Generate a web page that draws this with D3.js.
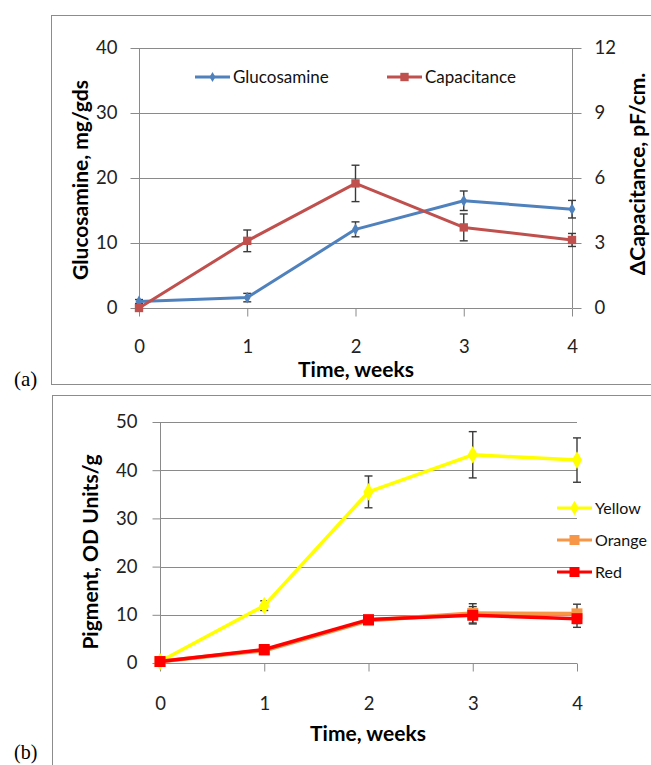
<!DOCTYPE html>
<html>
<head>
<meta charset="utf-8">
<script src="https://cdn.jsdelivr.net/npm/d3@7"></script>
<style>
  body { margin: 0; background: #fff; }
  svg { display: block; font-family: Lato, "Open Sans", sans-serif; }
</style>
</head>
<body>
<svg id="chart" width="651" height="765"></svg>
<script>
"use strict";

// values
const weeks = [0, 1, 2, 3, 4];

const glucosamine = [1.0, 1.6, 12.1, 16.5, 15.2];
const glucosamineErr = [0.3, 0.65, 1.15, 1.5, 1.35];
const capacitance = [0, 3.1, 5.75, 3.72, 3.14];
const capacitanceErr = [0, 0.5, 0.84, 0.62, 0.3];

const yellow = [0.3, 11.9, 35.5, 43.2, 42.1];
const yellowErr = [0.3, 1.0, 3.3, 4.8, 4.6];
const orange = [0.3, 2.6, 8.8, 10.3, 10.2];
const orangeErr = [0.2, 0.5, 0.6, 2.0, 2.0];
const red = [0.3, 2.8, 9.0, 9.9, 9.2];
const redErr = [0.2, 0.5, 0.6, 1.8, 1.8];

const leftTicksA = [0, 10, 20, 30, 40];
const rightTicksA = [0, 3, 6, 9, 12];
const leftTicksB = [0, 10, 20, 30, 40, 50];

const gridColor = "#8a8a8a";

let svg = d3.select("#chart");

// panel frames
svg.append("rect")
    .attr("x", 51.5).attr("y", 15.5)
    .attr("width", 640).attr("height", 369)
    .attr("fill", "none").attr("stroke", "#8c8c8c");
svg.append("rect")
    .attr("x", 52.5).attr("y", 395.5)
    .attr("width", 640).attr("height", 400)
    .attr("fill", "none").attr("stroke", "#8c8c8c");

svg.append("text").text("(a)")
    .attr("x", 14).attr("y", 386)
    .style("font-family", "'Liberation Serif', serif").style("font-size", "21px");
svg.append("text").text("(b)")
    .attr("x", 14).attr("y", 759)
    .style("font-family", "'Liberation Serif', serif").style("font-size", "20px");

function styleAxis(g) {
    g.select(".domain").remove();
    g.selectAll(".tick line").attr("stroke", gridColor);
    g.selectAll(".tick text")
        .attr("fill", "#222")
        .style("font-size", "18.5px")
        .style("font-family", "Lato, sans-serif");
}

function gridlines(g, x, y, ticks) {
    g.append("g").selectAll("line")
        .data(ticks)
        .join("line")
        .attr("x1", x.range()[0]).attr("x2", x.range()[1])
        .attr("y1", d => Math.round(y(d)) + 0.5)
        .attr("y2", d => Math.round(y(d)) + 0.5)
        .attr("stroke", gridColor);
}

function errorBars(g, x, y, vals, errs, cap) {
    let eb = g.append("g").attr("stroke", "#3a3a3a").attr("stroke-width", 1.4);
    weeks.forEach((w, i) => {
        if (!errs[i]) return;
        let cx = x(w), y1 = y(vals[i] + errs[i]), y2 = y(vals[i] - errs[i]);
        eb.append("line").attr("x1", cx).attr("x2", cx).attr("y1", y1).attr("y2", y2);
        eb.append("line").attr("x1", cx - cap).attr("x2", cx + cap).attr("y1", y1).attr("y2", y1);
        eb.append("line").attr("x1", cx - cap).attr("x2", cx + cap).attr("y1", y2).attr("y2", y2);
    });
}

function series(g, x, y, vals, color, width, shape, size) {
    let line = d3.line().x((d, i) => x(weeks[i])).y(d => y(d));
    g.append("path")
        .datum(vals)
        .attr("d", line)
        .attr("fill", "none")
        .attr("stroke", color)
        .attr("stroke-width", width)
        .attr("stroke-linejoin", "round");
    g.append("g").selectAll("path")
        .data(vals)
        .join("path")
        .attr("d", d3.symbol().type(shape).size(size))
        .attr("transform", (d, i) => `translate(${x(weeks[i])},${y(d)})`)
        .attr("fill", color);
}

function legendItem(g, x0, y0, color, shape, size, label, width, fs) {
    g.append("line")
        .attr("x1", x0).attr("x2", x0 + 35)
        .attr("y1", y0).attr("y2", y0)
        .attr("stroke", color).attr("stroke-width", width);
    g.append("path")
        .attr("d", d3.symbol().type(shape).size(size))
        .attr("transform", `translate(${x0 + 17.5},${y0})`)
        .attr("fill", color);
    g.append("text").text(label)
        .attr("x", x0 + 38).attr("y", y0 + 6)
        .attr("fill", "#111")
        .style("font-size", fs + "px");
}

// ---------- panel (a) ----------
{
    let x = d3.scaleLinear().domain([0, 4]).range([139, 572]);
    let yL = d3.scaleLinear().domain([0, 40]).range([308, 48]);
    let yR = d3.scaleLinear().domain([0, 12]).range([308, 48]);
    let g = svg.append("g");

    gridlines(g, x, yL, leftTicksA);

    g.append("line")
        .attr("x1", x(0) + 0.5).attr("x2", x(0) + 0.5)
        .attr("y1", yL(40)).attr("y2", yL(0))
        .attr("stroke", gridColor);
    g.append("line")
        .attr("x1", x(4) + 0.5).attr("x2", x(4) + 0.5)
        .attr("y1", yL(40)).attr("y2", yL(0))
        .attr("stroke", gridColor);

    g.append("g")
        .attr("transform", `translate(${x(0) + 0.5},0)`)
        .call(d3.axisLeft(yL).tickValues(leftTicksA).tickSize(9).tickPadding(13))
        .call(styleAxis);
    g.append("g")
        .attr("transform", `translate(${x(4) + 0.5},0)`)
        .call(d3.axisRight(yR).tickValues(rightTicksA).tickSize(9).tickPadding(13))
        .call(styleAxis);
    g.append("g")
        .attr("transform", `translate(0,${yL(0) + 0.5})`)
        .call(d3.axisBottom(x).tickValues(weeks).tickFormat(d3.format("d")).tickSize(8).tickPadding(23))
        .call(styleAxis);

    errorBars(g, x, yL, glucosamine, glucosamineErr, 4);
    errorBars(g, x, yR, capacitance, capacitanceErr, 4);
    series(g, x, yL, glucosamine, "#4f81bd", 3, d3.symbolDiamond, 40);
    series(g, x, yR, capacitance, "#c0504d", 3, d3.symbolSquare, 70);

    legendItem(g, 195, 77, "#4f81bd", d3.symbolDiamond, 30, "Glucosamine", 3, 17);
    legendItem(g, 387, 77, "#c0504d", d3.symbolSquare, 70, "Capacitance", 3, 17);

    g.append("text").text("Time, weeks")
        .attr("x", 356).attr("y", 377)
        .attr("text-anchor", "middle")
        .style("font-size", "21px").style("font-weight", "bold");
    g.append("text").text("Glucosamine, mg/gds")
        .attr("transform", "translate(88,180) rotate(-90)")
        .attr("text-anchor", "middle")
        .style("font-size", "21px").style("font-weight", "bold");
    g.append("text").text("\u0394Capacitance, pF/cm.")
        .attr("transform", "translate(645,174) rotate(-90)")
        .attr("text-anchor", "middle")
        .style("font-size", "21px").style("font-weight", "bold");
}

// ---------- panel (b) ----------
{
    let x = d3.scaleLinear().domain([0, 4]).range([160, 577]);
    let y = d3.scaleLinear().domain([0, 50]).range([663, 422]);
    let g = svg.append("g");

    gridlines(g, x, y, leftTicksB);

    g.append("line")
        .attr("x1", x(0) + 0.5).attr("x2", x(0) + 0.5)
        .attr("y1", y(50)).attr("y2", y(0))
        .attr("stroke", gridColor);

    g.append("g")
        .attr("transform", `translate(${x(0) + 0.5},0)`)
        .call(d3.axisLeft(y).tickValues(leftTicksB).tickSize(8).tickPadding(15))
        .call(styleAxis);
    g.append("g")
        .attr("transform", `translate(0,${y(0) + 0.5})`)
        .call(d3.axisBottom(x).tickValues(weeks).tickFormat(d3.format("d")).tickSize(8).tickPadding(25))
        .call(styleAxis);

    errorBars(g, x, y, yellow, yellowErr, 4);
    errorBars(g, x, y, orange, orangeErr, 4);
    errorBars(g, x, y, red, redErr, 4);
    series(g, x, y, yellow, "#ffff00", 3.5, d3.symbolDiamond, 90);
    series(g, x, y, orange, "#f79646", 4, d3.symbolSquare, 120);
    series(g, x, y, red, "#ff0000", 3.5, d3.symbolSquare, 120);

    legendItem(g, 557, 508, "#ffff00", d3.symbolDiamond, 60, "Yellow", 3, 16);
    legendItem(g, 557, 540, "#f79646", d3.symbolSquare, 100, "Orange", 3, 16);
    legendItem(g, 557, 572, "#ff0000", d3.symbolSquare, 100, "Red", 3, 16);

    g.append("text").text("Time, weeks")
        .attr("x", 368).attr("y", 741)
        .attr("text-anchor", "middle")
        .style("font-size", "21px").style("font-weight", "bold");
    g.append("text").text("Pigment, OD Units/g")
        .attr("transform", "translate(98,552) rotate(-90)")
        .attr("text-anchor", "middle")
        .style("font-size", "21px").style("font-weight", "bold");
}
</script>
</body>
</html>
